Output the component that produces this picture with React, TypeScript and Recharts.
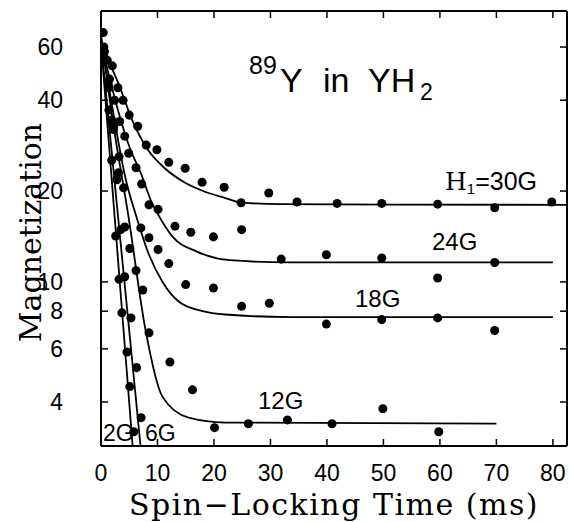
import React from 'react';
import { ComposedChart, Line, Scatter, XAxis, YAxis } from 'recharts';

const xTicks = [0, 10, 20, 30, 40, 50, 60, 70, 80];
const yTicks = [4, 6, 8, 10, 20, 40, 60];

// measured points, H1 = 30G
const pts30 = [
  { t: 0.4, m: 67 }, { t: 2.0, m: 52 }, { t: 3.0, m: 44 }, { t: 3.9, m: 40 },
  { t: 5.0, m: 35.7 }, { t: 6.5, m: 32.8 }, { t: 8.0, m: 28.4 }, { t: 9.9, m: 27.4 },
  { t: 12.0, m: 24.9 }, { t: 14.9, m: 23.8 }, { t: 17.9, m: 21.4 }, { t: 21.8, m: 20.6 },
  { t: 24.8, m: 18.3 }, { t: 29.7, m: 19.7 }, { t: 34.7, m: 18.4 }, { t: 41.8, m: 18.2 },
  { t: 49.7, m: 18.2 }, { t: 59.6, m: 18.1 }, { t: 69.7, m: 17.6 }, { t: 79.8, m: 18.4 },
];
const fit30 = [
  { t: 0, m: 63 }, { t: 1.2, m: 55 }, { t: 3.4, m: 43.9 }, { t: 5.5, m: 34.4 },
  { t: 8.3, m: 27.4 }, { t: 11.3, m: 23.8 }, { t: 14.9, m: 21.3 }, { t: 18.4, m: 19.9 },
  { t: 21.9, m: 19.0 }, { t: 25, m: 18.3 }, { t: 32, m: 18.1 }, { t: 82.5, m: 18.0 },
];

const pts24 = [
  { t: 0.6, m: 58 }, { t: 1.5, m: 47 }, { t: 2.4, m: 40 }, { t: 3.3, m: 34 },
  { t: 4.2, m: 30.4 }, { t: 4.9, m: 26.7 }, { t: 6.2, m: 23.9 }, { t: 7.2, m: 21.1 },
  { t: 8.5, m: 18.0 }, { t: 10.1, m: 17.4 }, { t: 13.1, m: 15.3 }, { t: 15.9, m: 14.6 },
  { t: 19.9, m: 14.1 }, { t: 24.9, m: 14.9 }, { t: 31.9, m: 11.9 }, { t: 39.9, m: 12.3 },
  { t: 49.7, m: 12.0 }, { t: 59.6, m: 10.3 }, { t: 69.7, m: 11.6 },
];
const fit24 = [
  { t: 0, m: 62 }, { t: 1.6, m: 46.7 }, { t: 3.0, m: 37.1 }, { t: 4.8, m: 28.8 },
  { t: 7.3, m: 22.3 }, { t: 9.0, m: 18.3 }, { t: 9.9, m: 17.0 }, { t: 12.7, m: 14.1 },
  { t: 17.0, m: 12.6 }, { t: 22.8, m: 11.8 }, { t: 33.5, m: 11.6 }, { t: 80, m: 11.6 },
];

const pts18 = [
  { t: 0.5, m: 56 }, { t: 1.4, m: 44 }, { t: 2.3, m: 33 }, { t: 3.2, m: 26 },
  { t: 4.0, m: 20.5 }, { t: 7.05, m: 15.1 }, { t: 8.5, m: 14.0 }, { t: 10.1, m: 12.8 },
  { t: 12.0, m: 11.5 }, { t: 15.0, m: 9.8 }, { t: 19.9, m: 9.55 }, { t: 24.9, m: 8.3 },
  { t: 29.8, m: 8.5 }, { t: 39.9, m: 7.25 }, { t: 49.7, m: 7.5 }, { t: 59.6, m: 7.6 },
  { t: 69.7, m: 6.9 },
];
const fit18 = [
  { t: 0, m: 63 }, { t: 2.1, m: 37 }, { t: 4.4, m: 21.8 }, { t: 6.2, m: 16.6 },
  { t: 8.5, m: 12.3 }, { t: 10.9, m: 10.0 }, { t: 13.8, m: 8.6 }, { t: 18.0, m: 8.0 },
  { t: 22.0, m: 7.8 }, { t: 33.5, m: 7.65 }, { t: 80, m: 7.65 },
];

const pts12 = [
  { t: 0.5, m: 60 }, { t: 1.3, m: 45 }, { t: 2.2, m: 32 }, { t: 3.1, m: 23 },
  { t: 4.2, m: 15.2 }, { t: 5.1, m: 12.9 }, { t: 6.2, m: 10.9 }, { t: 7.4, m: 9.4 },
  { t: 8.5, m: 6.78 }, { t: 12.2, m: 5.43 }, { t: 16.2, m: 4.39 }, { t: 20.1, m: 3.29 },
  { t: 26.1, m: 3.39 }, { t: 33.0, m: 3.49 }, { t: 40.9, m: 3.39 }, { t: 49.9, m: 3.8 },
  { t: 59.8, m: 3.19 },
];
const fit12 = [
  { t: 0, m: 66 }, { t: 1.8, m: 37.1 }, { t: 4.9, m: 16.3 }, { t: 7.9, m: 6.9 },
  { t: 10.9, m: 4.16 }, { t: 15.5, m: 3.55 }, { t: 22.0, m: 3.42 }, { t: 70, m: 3.39 },
];

const pts6 = [
  { t: 1.1, m: 54.3 }, { t: 1.9, m: 34.4 }, { t: 2.8, m: 21.8 }, { t: 3.5, m: 14.9 },
  { t: 4.2, m: 10.4 }, { t: 5.3, m: 7.6 }, { t: 6.3, m: 5.2 }, { t: 7.1, m: 3.55 },
];
const fit6 = [{ t: 0, m: 62 }, { t: 7.0, m: 2.86 }];

const pts2 = [
  { t: 0.7, m: 54.3 }, { t: 1.4, m: 37.1 }, { t: 1.9, m: 25.3 }, { t: 2.6, m: 14.2 },
  { t: 3.2, m: 10.2 }, { t: 3.7, m: 7.9 }, { t: 4.6, m: 5.86 }, { t: 5.1, m: 4.5 },
  { t: 5.8, m: 3.19 },
];
const fit2 = [{ t: 0, m: 62 }, { t: 5.6, m: 2.86 }];

const series = [
  { pts: pts30, fit: fit30, curve: 'monotone' },
  { pts: pts24, fit: fit24, curve: 'monotone' },
  { pts: pts18, fit: fit18, curve: 'monotone' },
  { pts: pts12, fit: fit12, curve: 'monotone' },
  { pts: pts6, fit: fit6, curve: 'linear' },
  { pts: pts2, fit: fit2, curve: 'linear' },
];

const serif = 'DejaVu Serif, serif';
const sans = 'Liberation Sans, Arial, sans-serif';
const tickFont = { fill: '#000', fontSize: 23, fontFamily: sans };
const noLabel = () => null;

export default function App() {
  return (
    <div style={{ position: 'absolute', left: 0, top: 0, width: 569, height: 522, background: '#fff' }}>
      <ComposedChart width={569} height={522} margin={{ top: 10, right: 1, bottom: 0, left: 0 }}>
        <XAxis
          dataKey="t" type="number" domain={[0, 82.5]} ticks={xTicks} interval={0}
          allowDataOverflow tickSize={-7} tickMargin={26} height={76}
          axisLine={{ stroke: '#000', strokeWidth: 2 }} tickLine={{ stroke: '#000', strokeWidth: 1.5 }}
          tick={tickFont}
          label={{
            value: 'Spin−Locking Time (ms)', position: 'insideBottom', offset: 7, fill: '#000',
            fontSize: 30, fontFamily: serif, letterSpacing: 1.5,
          }}
        />
        <XAxis
          xAxisId="top" orientation="top" dataKey="t" type="number" domain={[0, 82.5]} ticks={xTicks}
          interval={0} allowDataOverflow tickSize={-7} height={1}
          axisLine={{ stroke: '#000', strokeWidth: 2 }} tickLine={{ stroke: '#000', strokeWidth: 1.5 }}
          tick={noLabel}
        />
        <YAxis
          dataKey="m" type="number" scale="log" domain={[2.86, 79]} ticks={yTicks} interval={0}
          allowDataOverflow tickSize={-7} tickMargin={45} width={101}
          axisLine={{ stroke: '#000', strokeWidth: 2 }} tickLine={{ stroke: '#000', strokeWidth: 1.5 }}
          tick={tickFont}
          label={{ value: 'Magnetization', angle: -90, position: 'center', dx: -20, dy: 4, fill: '#000', fontSize: 30, fontFamily: serif }}
        />
        <YAxis
          yAxisId="right" orientation="right" dataKey="m" type="number" scale="log" domain={[2.86, 79]}
          ticks={yTicks} interval={0} allowDataOverflow tickSize={-7} width={1}
          axisLine={{ stroke: '#000', strokeWidth: 2 }} tickLine={{ stroke: '#000', strokeWidth: 1.5 }}
          tick={noLabel}
        />
        {series.map((s, i) => (
          <Line
            key={'fit' + i} data={s.fit} dataKey="m" type={s.curve as any} stroke="#000"
            strokeWidth={1.8} dot={false} activeDot={false} isAnimationActive={false}
          />
        ))}
        {series.map((s, i) => (
          <Scatter key={'pts' + i} data={s.pts} dataKey="m" fill="#000" isAnimationActive={false} />
        ))}
      </ComposedChart>
      <svg width={569} height={522} style={{ position: 'absolute', left: 0, top: 0, pointerEvents: 'none' }}>
        <text fontFamily={sans} fill="#000">
          <tspan x={249} y={74} fontSize={25}>89</tspan>
          <tspan x={280} y={92} fontSize={34}>Y</tspan>
          <tspan x={323} y={92} fontSize={34}>in</tspan>
          <tspan x={368} y={92} fontSize={34}>YH</tspan>
          <tspan x={420} y={100} fontSize={23}>2</tspan>
        </text>
        <text x={445} y={190} fontSize={25} fill="#000">
          <tspan fontFamily={serif}>H</tspan>
          <tspan fontFamily={sans} fontSize={15} dy={4}>1</tspan>
          <tspan fontFamily={sans} dy={-4}>=30G</tspan>
        </text>
        <text x={432} y={250} fontFamily={sans} fontSize={24} fill="#000">24G</text>
        <text x={355} y={307} fontFamily={sans} fontSize={24} fill="#000">18G</text>
        <text x={258} y={409} fontFamily={sans} fontSize={24} fill="#000">12G</text>
        <text x={103} y={441} fontFamily={sans} fontSize={23} fill="#000">2G</text>
        <text x={145} y={441} fontFamily={sans} fontSize={23} fill="#000">6G</text>
      </svg>
    </div>
  );
}
